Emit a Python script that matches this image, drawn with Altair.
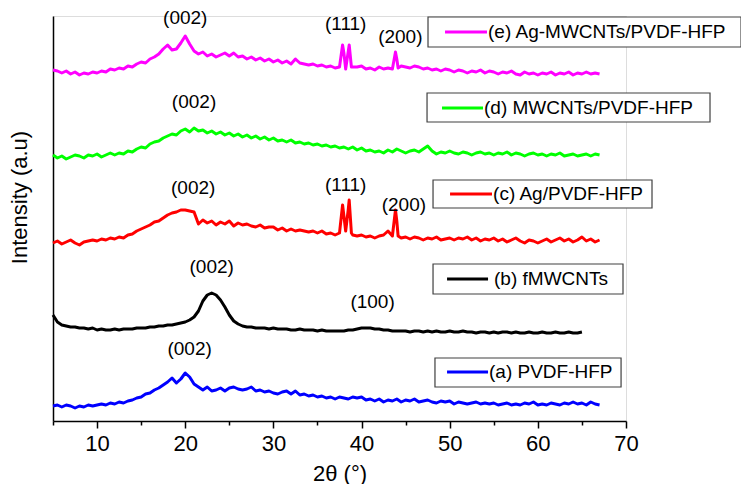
import altair as alt
import pandas as pd

# ---------------- data ----------------
X_START = 5.0
X_STEP = 0.5

series_names = ["(a) PVDF-HFP", "(b) fMWCNTs", "(c) Ag/PVDF-HFP",
                "(d) MWCNTs/PVDF-HFP", "(e) Ag-MWCNTs/PVDF-HFP"]
series_colors = ["#0000FF", "#000000", "#FF0000", "#00FF00", "#FF00FF"]

a_y = [15, 16, 14, 16, 15, 13, 15, 14, 16, 15,
       16, 17, 16, 18, 17, 19, 18, 20, 21, 23,
       24, 27, 28, 31, 33, 36, 39, 43, 38, 42,
       48, 44, 37, 34, 31, 34, 30, 31, 33, 30,
       33, 34, 32, 31, 32, 34, 30, 31, 29, 30,
       28, 27, 29, 30, 27, 30, 26, 27, 25, 26,
       24, 25, 23, 24, 22, 24, 23, 22, 24, 23,
       24, 21, 22, 20, 22, 19, 21, 20, 22, 19,
       21, 20, 22, 19, 20, 21, 19, 18, 20, 19,
       20, 17, 19, 18, 17, 18, 19, 17, 18, 17,
       18, 16, 17, 18, 16, 17, 16, 18, 17, 19,
       16, 17, 16, 18, 17, 16, 18, 17, 19, 17,
       18, 16, 19, 17, 16]
a_peak_x = []
a_peak_y = []

b_y = [106, 99, 96, 95, 94, 94, 93, 93, 92, 93,
       91, 92, 91, 91, 92, 91, 92, 92, 92, 93,
       93, 93, 94, 94, 95, 95, 96, 96, 97, 98,
       99, 101, 104, 110, 120, 126, 128, 126, 121, 114,
       106, 100, 97, 95, 94, 94, 93, 93, 93, 92,
       93, 92, 92, 92, 91, 91, 92, 91, 91, 91,
       90, 91, 90, 90, 90, 90, 90, 91, 91, 92,
       93, 93, 93, 92, 92, 91, 91, 90, 90, 90,
       90, 89, 90, 90, 89, 90, 89, 90, 89, 89,
       90, 89, 89, 90, 89, 89, 88, 89, 89, 88,
       89, 88, 89, 89, 88, 89, 88, 88, 89, 88,
       88, 89, 88, 88, 89, 88, 88, 89, 88, 88,
       89]
b_peak_x = []
b_peak_y = []

c_y = [178, 180, 177, 179, 181, 178, 176, 179, 180, 181,
       180, 182, 181, 183, 182, 184, 183, 186, 187, 190,
       192, 194, 196, 199, 200, 203, 206, 208, 209, 211,
       211, 210, 209, 197, 201, 198, 200, 196, 199, 197,
       200, 195, 198, 196, 197, 195, 194, 196, 193, 194,
       194, 191, 193, 190, 192, 190, 191, 190, 189, 190,
       188, 190, 187, 188, 186, 188, 205, 212, 186, 185,
       186, 184, 185, 183, 185, 186, 190, 185, 200, 183,
       184, 182, 184, 183, 181, 183, 182, 184, 181, 182,
       183, 181, 183, 182, 184, 181, 183, 180, 182, 181,
       183, 180, 182, 179, 181, 183, 180, 178, 181, 180,
       178, 180, 182, 179, 181, 183, 180, 182, 179, 181,
       184, 180, 182, 179, 181]
c_peak_x = [37.85, 38.2, 38.6, 38.85, 43.85, 44.15]
c_peak_y = [216, 190, 221, 188, 211, 185]

d_y = [266, 263, 265, 262, 264, 266, 265, 263, 266, 265,
       267, 264, 266, 268, 266, 268, 267, 270, 269, 272,
       274, 273, 277, 279, 280, 283, 285, 287, 286, 290,
       292, 289, 293, 290, 291, 288, 290, 287, 289, 286,
       288, 285, 287, 284, 286, 283, 285, 282, 284, 281,
       283, 280, 281, 279, 281, 278, 279, 277, 278, 276,
       277, 275, 276, 274, 275, 273, 274, 272, 274, 271,
       273, 270, 271, 269, 270, 268, 271, 269, 272, 270,
       268, 270, 271, 269, 272, 275, 270, 267, 269, 268,
       270, 268, 267, 269, 268, 266, 268, 269, 267, 268,
       266, 268, 267, 269, 266, 268, 267, 265, 267, 268,
       266, 267, 265, 267, 266, 268, 265, 266, 267, 265,
       266, 267, 265, 267, 266]
d_peak_x = []
d_peak_y = []

e_y = [351, 350, 348, 350, 347, 349, 346, 348, 347, 349,
       348, 350, 349, 352, 351, 353, 352, 355, 354, 357,
       359, 358, 362, 364, 367, 372, 376, 371, 372, 378,
       385, 377, 370, 367, 369, 365, 367, 364, 366, 368,
       365, 368, 364, 365, 362, 364, 361, 363, 360, 362,
       359, 361, 358, 360, 357, 362, 358, 357, 356, 357,
       355, 356, 354, 355, 353, 354, 368, 370, 354, 354,
       355, 352, 353, 351, 354, 352, 353, 352, 362, 355,
       354, 353, 355, 354, 352, 353, 351, 352, 350, 352,
       351, 349, 351, 350, 348, 350, 349, 351, 348, 350,
       349, 347, 349, 348, 350, 347, 346, 349, 347, 348,
       346, 348, 347, 349, 346, 348, 347, 349, 346, 348,
       347, 349, 347, 348, 347]
e_peak_x = [37.85, 38.2, 38.6, 38.85, 43.85, 44.15]
e_peak_y = [376, 352, 376, 354, 369, 353]

# peak annotations
ann_text = ["(002)", "(111)", "(200)", "(002)", "(002)", "(111)", "(200)",
            "(002)", "(100)", "(002)"]
ann_x = [20.0, 38.2, 44.4, 21.0, 20.9, 38.2, 44.8, 23.0, 41.25, 20.5]
ann_y = [403, 397, 384, 319, 233, 236, 216, 154, 119, 72]

# per-curve legend boxes (2θ / intensity units)
leg_box_x1 = [48.33, 48.11, 48.11, 47.43, 47.54]
leg_box_x2 = [69.44, 69.66, 72.95, 79.53, 83.05]
leg_box_y1 = [34, 127, 213, 299, 374]
leg_box_y2 = [63, 157, 241, 328, 404]
leg_line_x1 = [49.70, 49.70, 50.04, 49.13, 49.47]
leg_line_x2 = [54.35, 54.35, 54.80, 53.78, 54.23]
leg_line_y = [49, 142, 227, 313, 389]
leg_text_x = [54.46, 55.03, 54.92, 53.89, 54.35]

# ---------------- build tables ----------------
curves = [(a_y, a_peak_x, a_peak_y), (b_y, b_peak_x, b_peak_y),
          (c_y, c_peak_x, c_peak_y), (d_y, d_peak_x, d_peak_y),
          (e_y, e_peak_x, e_peak_y)]
rows = []
for name, (ys, px, py) in zip(series_names, curves):
    for i, v in enumerate(ys):
        rows.append({"series": name, "x": X_START + X_STEP * i, "y": v})
    for xv, yv in zip(px, py):
        rows.append({"series": name, "x": xv, "y": yv})
df = pd.DataFrame(rows)

ann = pd.DataFrame({"text": ann_text, "x": ann_x, "y": ann_y})
leg = pd.DataFrame({
    "series": series_names,
    "bx1": leg_box_x1, "bx2": leg_box_x2, "by1": leg_box_y1, "by2": leg_box_y2,
    "lx1": leg_line_x1, "lx2": leg_line_x2, "ly": leg_line_y, "tx": leg_text_x,
})

FONT = "Liberation Sans, Arial, Helvetica, sans-serif"

xscale = alt.Scale(domain=[5, 70], nice=False, zero=False)
yscale = alt.Scale(domain=[0, 405], nice=False, zero=False)
cscale = alt.Scale(domain=series_names, range=series_colors)

xaxis = alt.Axis(
    title="2θ (°)", values=list(range(5, 71, 5)),
    labelExpr="datum.value % 10 == 0 ? datum.label : ''",
    grid=False, domainColor="black", domainWidth=1.5,
    tickColor="black", tickWidth=1.5,
    tickSize={"condition": {"test": "datum.value % 10 == 0", "value": 7}, "value": 4},
    labelFont=FONT, labelFontSize=22, labelColor="black", labelPadding=5,
    labelFlush=False, labelOverlap=False,
    titleFont=FONT, titleFontSize=22, titleFontWeight="normal", titleColor="black",
    titleBaseline="alphabetic", titleY=59,
)
yaxis = alt.Axis(
    title="Intensity (a.u)", labels=False, ticks=False, grid=False,
    domainColor="black", domainWidth=1.5,
    titleFont=FONT, titleFontSize=22, titleFontWeight="normal", titleColor="black",
    titleBaseline="alphabetic", titleX=-27, titleY=181, titleAngle=270,
)

X = lambda f: alt.X(f, scale=xscale, axis=xaxis)
Y = lambda f: alt.Y(f, scale=yscale, axis=yaxis)

lines = alt.Chart(df).mark_line(strokeWidth=3, strokeJoin="round").encode(
    x=X("x:Q"), y=Y("y:Q"),
    color=alt.Color("series:N", scale=cscale, legend=None),
)

labels = alt.Chart(ann).mark_text(
    font=FONT, fontSize=19, color="black", align="center", baseline="middle"
).encode(x=X("x:Q"), y=Y("y:Q"), text="text:N")

boxes = alt.Chart(leg).mark_rect(fill="white", stroke="#404040", strokeWidth=1.2).encode(
    x=X("bx1:Q"), x2="bx2:Q", y=Y("by1:Q"), y2="by2:Q"
)
swatches = alt.Chart(leg).mark_rule(strokeWidth=3).encode(
    x=X("lx1:Q"), x2="lx2:Q", y=Y("ly:Q"),
    color=alt.Color("series:N", scale=cscale, legend=None),
)
leg_text = alt.Chart(leg).mark_text(
    font=FONT, fontSize=19, color="black", align="left", baseline="middle"
).encode(x=X("tx:Q"), y=Y("ly:Q"), text="series:N")

chart = alt.layer(lines, labels, boxes, swatches, leg_text).properties(
    width=573, height=405,
    autosize=alt.AutoSizeParams(type="none"),
    padding={"left": 45, "top": 8, "right": 115, "bottom": 63},
).configure_view(stroke=None).configure(background="white")

chart.save("out.html", embed_options={"renderer": "svg", "actions": False})
